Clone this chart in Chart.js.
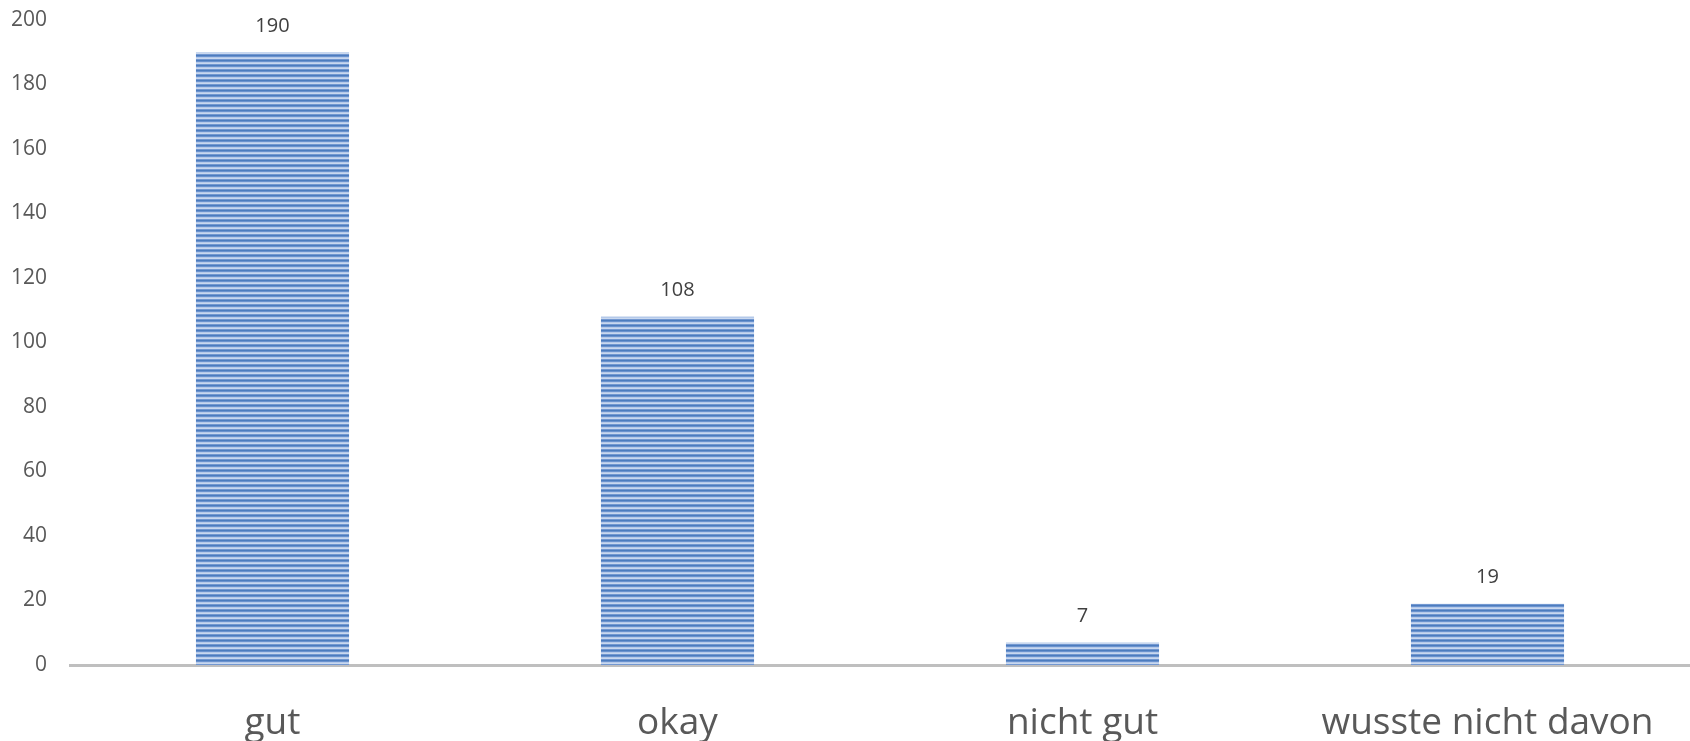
<!DOCTYPE html>
<html>
<head>
<meta charset="utf-8">
<script src="https://cdn.jsdelivr.net/npm/chart.js@4"></script>
<style>
  html, body { margin: 0; padding: 0; background: #fff; }
  #wrap { width: 1690px; height: 741px; }
</style>
</head>
<body>
<div id="wrap"><canvas id="chart" width="1690" height="741"></canvas></div>
<script>
const categories = ["gut", "okay", "nicht gut", "wusste nicht davon"];
const counts = [190, 108, 7, 19];
const yTicks = [0, 20, 40, 60, 80, 100, 120, 140, 160, 180, 200];

// horizontal stripe fill like the original bars
function stripePattern(ctx) {
  const c = document.createElement("canvas");
  c.width = 1;
  c.height = 5;
  const p = c.getContext("2d");
  const rows = ["#4c7cbe", "#6a92ce", "#b4c9ea", "#c9d8ef", "#7398d1"];
  rows.forEach((col, i) => {
    p.fillStyle = col;
    p.fillRect(0, i, 1, 1);
  });
  return ctx.createPattern(c, "repeat");
}

const valueLabels = {
  id: "valueLabels",
  afterDatasetsDraw(chart) {
    const { ctx } = chart;
    const meta = chart.getDatasetMeta(0);
    ctx.save();
    ctx.font = "20px 'Open Sans'";
    ctx.fillStyle = "#404040";
    ctx.textAlign = "center";
    ctx.textBaseline = "middle";
    meta.data.forEach((bar, i) => {
      ctx.fillText(String(counts[i]), bar.x, bar.y - 26);
    });
    ctx.restore();
  }
};

const ctx = document.getElementById("chart").getContext("2d");

new Chart(ctx, {
  type: "bar",
  data: {
    labels: categories,
    datasets: [{
      data: counts,
      backgroundColor: stripePattern(ctx),
      borderWidth: 0,
      categoryPercentage: 1,
      barPercentage: 0.378
    }]
  },
  options: {
    responsive: false,
    animation: false,
    layout: { padding: { top: 20, right: 0, left: 0, bottom: 0 } },
    plugins: {
      legend: { display: false },
      tooltip: { enabled: false }
    },
    scales: {
      x: {
        grid: { display: false, drawTicks: false },
        border: { display: true, color: "#bfbfbf", width: 3 },
        ticks: {
          color: "#595959",
          font: { family: "'Open Sans'", size: 37 },
          padding: 36,
          maxRotation: 0,
          autoSkip: false
        },
        afterFit(scale) {
          scale.height = 76;
          scale.paddingTop = 0;
          scale.paddingBottom = 0;
        }
      },
      y: {
        min: 0,
        max: 200,
        grid: { display: false, drawTicks: false },
        border: { display: false },
        afterBuildTicks(scale) { scale.ticks = yTicks.map(v => ({ value: v })); },
        ticks: {
          color: "#595959",
          font: { family: "'Open Sans'", size: 21 },
          padding: 23
        },
        afterFit(scale) {
          scale.width = 70;
          scale.paddingTop = 0;
          scale.paddingBottom = 0;
        }
      }
    }
  },
  plugins: [valueLabels]
});
</script>
</body>
</html>
